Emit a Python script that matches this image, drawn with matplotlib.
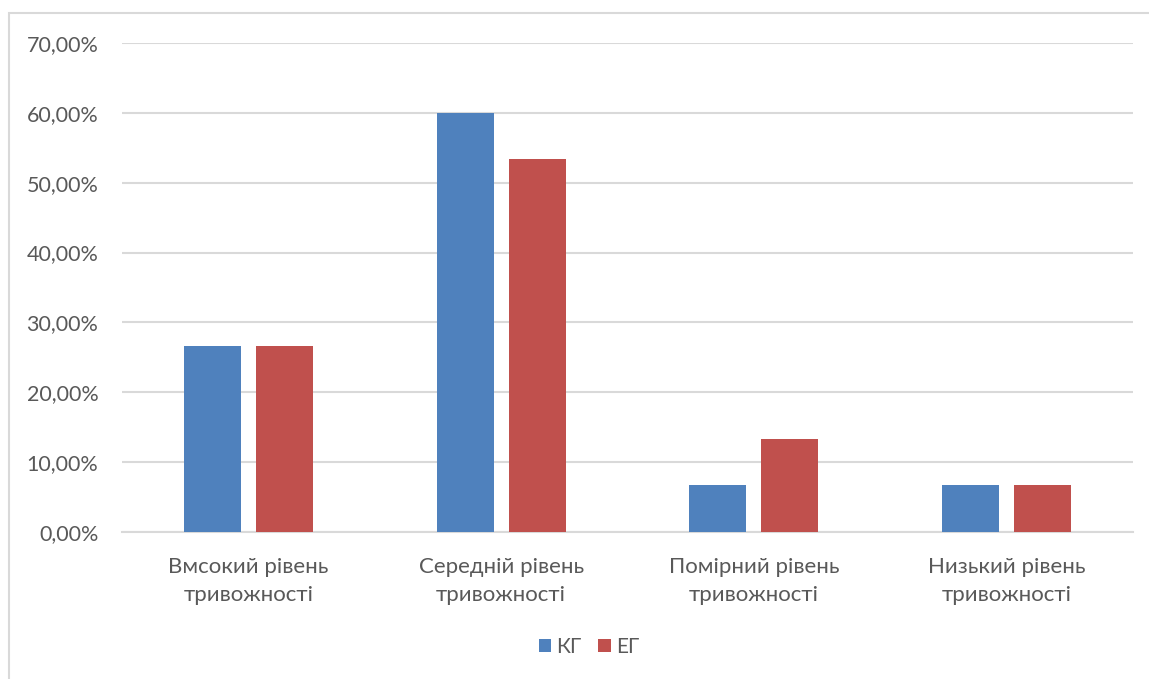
import numpy as np
import matplotlib.pyplot as plt
from matplotlib.patches import Rectangle
from matplotlib.ticker import FuncFormatter

# anxiety levels in control (КГ) and experimental (ЕГ) groups
categories = ["Вмсокий рівень\nтривожності", "Середній рівень\nтривожності",
              "Помірний рівень\nтривожності", "Низький рівень\nтривожності"]
kg = [26.67, 60.00, 6.67, 6.67]
eg = [26.67, 53.33, 13.33, 6.67]
series_names = ["КГ", "ЕГ"]

plt.rcParams['font.family'] = ['Lato', 'DejaVu Sans']
grey = "#595959"

fig = plt.figure(figsize=(11.49, 6.79), dpi=100)
ax = fig.add_axes([0.1062, 0.2165, 0.8799, 0.7202])

# chart frame
fig.patches.append(Rectangle((9 / 1149, -0.1), 1.2, 1 - 13 / 679 + 0.1,
                             transform=fig.transFigure, fill=False,
                             edgecolor="#d9d9d9", linewidth=1.5))

x = np.arange(len(categories))
w = 0.225
gap = 0.06
ax.bar(x - (w + gap) / 2, kg, w, color="#4f81bd", label=series_names[0], zorder=3)
ax.bar(x + (w + gap) / 2, eg, w, color="#c0504d", label=series_names[1], zorder=3)

ax.set_xlim(-0.5, len(categories) - 0.5)
ax.set_ylim(0, 70)
ax.set_yticks(np.arange(0, 71, 10))
ax.yaxis.set_major_formatter(FuncFormatter(lambda v, p: f"{v:.2f}%".replace(".", ",")))
ax.set_xticks(x)
ax.set_xticklabels(categories, fontsize=16, color=grey, linespacing=1.5)
ax.tick_params(axis="y", labelsize=15.5, labelcolor=grey, length=0, pad=17)
ax.tick_params(axis="x", length=0, pad=18)
ax.grid(axis="y", color="#d9d9d9", linewidth=1.5, zorder=0)
for s in ["top", "right", "left"]:
    ax.spines[s].set_visible(False)
ax.spines["bottom"].set_color("#d9d9d9")
ax.spines["bottom"].set_linewidth(1.5)

fig.legend(loc="center", bbox_to_anchor=(589 / 1149, 1 - 647 / 679), ncol=2,
           frameon=False, fontsize=15, labelcolor=grey, handlelength=0.6,
           handleheight=0.6, handletextpad=0.25, columnspacing=0.8)

fig.savefig("out.png", dpi=100)
